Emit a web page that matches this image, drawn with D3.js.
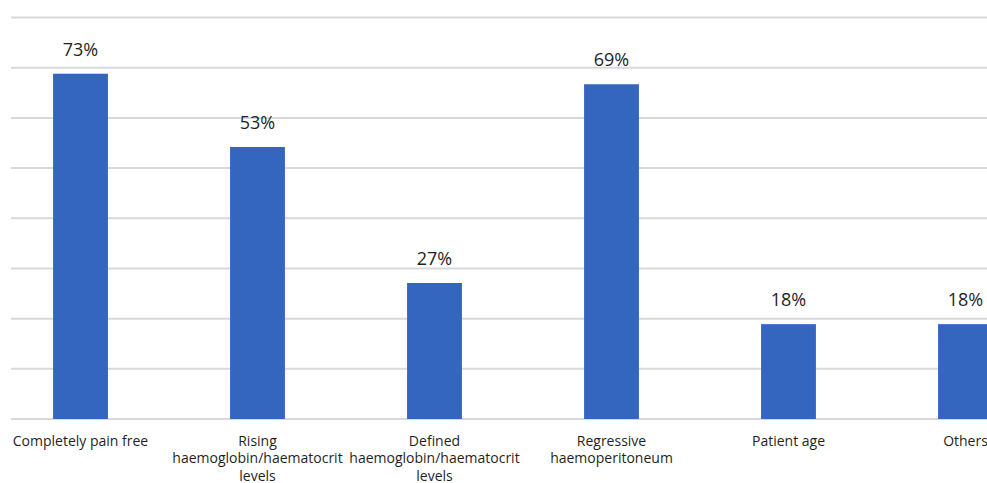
<!DOCTYPE html>
<html>
<head>
<meta charset="utf-8">
<script src="https://cdn.jsdelivr.net/npm/d3@7"></script>
<style>
  html, body { margin: 0; padding: 0; background: #fff; }
  svg { display: block; }
</style>
</head>
<body>
<div id="chart"></div>
<script>
// ---- data ----
const categories = [
  "Completely pain free",
  "Rising haemoglobin/haematocrit levels",
  "Defined haemoglobin/haematocrit levels",
  "Regressive haemoperitoneum",
  "Patient age",
  "Others"
];
// bar heights as read against the (unlabelled) gridlines
const values = [68.8, 54.2, 27.1, 66.7, 18.9, 18.9];
// printed data labels
const valueLabels = ["73%", "53%", "27%", "69%", "18%", "18%"];
// gridline ticks
const gridTicks = [0, 10, 20, 30, 40, 50, 60, 70, 80];

// ---- layout ----
const W = 987, H = 483;
const baseY = 419, topY = 17.5;
const gridLeft = 11, gridRight = 987;

const svg = d3.select("#chart").append("svg")
  .attr("width", W).attr("height", H);

const x = d3.scaleBand()
  .domain(categories)
  .range([-8, 1054])
  .paddingInner(0.69)
  .paddingOuter(0.345);

const y = d3.scaleLinear()
  .domain([0, 80])
  .range([baseY, topY]);

// gridlines
svg.append("g").selectAll("line")
  .data(gridTicks)
  .join("line")
  .attr("x1", gridLeft).attr("x2", gridRight)
  .attr("y1", d => y(d)).attr("y2", d => y(d))
  .attr("stroke", "#d9d9d9")
  .attr("stroke-width", 2);

// bars
svg.append("g").selectAll("rect")
  .data(categories)
  .join("rect")
  .attr("x", d => x(d))
  .attr("width", x.bandwidth())
  .attr("y", (d, i) => y(values[i]))
  .attr("height", (d, i) => y(0) - y(values[i]))
  .attr("fill", "#3566bf");

// value labels
svg.append("g").selectAll("text")
  .data(categories)
  .join("text")
  .attr("x", d => x(d) + x.bandwidth() / 2)
  .attr("y", (d, i) => y(values[i]) - 18)
  .attr("text-anchor", "middle")
  .attr("font-family", "'Open Sans', 'Noto Sans', sans-serif")
  .attr("font-size", 18)
  .attr("fill", "#1f1f1f")
  .text((d, i) => valueLabels[i]);

// category labels (wrapped)
const maxW = 170, lineH = 17.5;
const catG = svg.append("g")
  .attr("font-family", "'Open Sans', 'Noto Sans', sans-serif")
  .attr("font-size", 14)
  .attr("fill", "#1f1f1f");

categories.forEach(cat => {
  const cx = x(cat) + x.bandwidth() / 2;
  const t = catG.append("text")
    .attr("x", cx)
    .attr("y", baseY + 26.7)
    .attr("text-anchor", "middle");
  const words = cat.split(" ");
  let lines = [];
  let cur = [];
  const probe = catG.append("text").attr("visibility", "hidden");
  words.forEach(w => {
    const test = cur.concat([w]).join(" ");
    probe.text(test);
    if (probe.node().getComputedTextLength() > maxW && cur.length) {
      lines.push(cur.join(" "));
      cur = [w];
    } else {
      cur.push(w);
    }
  });
  if (cur.length) lines.push(cur.join(" "));
  probe.remove();
  lines.forEach((ln, i) => {
    t.append("tspan")
      .attr("x", cx)
      .attr("dy", i === 0 ? 0 : lineH)
      .text(ln);
  });
});
</script>
</body>
</html>
